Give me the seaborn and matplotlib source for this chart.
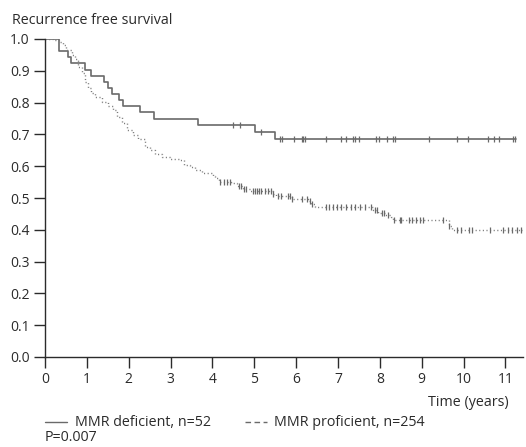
import numpy as np
import pandas as pd
import matplotlib
matplotlib.use("Agg")
import matplotlib.pyplot as plt
from matplotlib.lines import Line2D
import seaborn as sns

# Kaplan-Meier step levels (time in years, survival probability)
deficient_time = [0.0, 0.34, 0.56, 0.62, 0.95, 1.11, 1.41, 1.51, 1.59, 1.77,
                  1.87, 2.28, 2.60, 3.66, 5.01, 5.49, 11.26]
deficient_surv = [1.000, 0.962, 0.942, 0.923, 0.904, 0.885, 0.865, 0.846, 0.827, 0.808,
                  0.788, 0.769, 0.750, 0.731, 0.708, 0.684, 0.684]
deficient_censored = [4.49, 4.65, 5.17, 5.61, 5.67, 5.95, 6.13, 6.16, 6.21, 6.72,
                      7.06, 7.18, 7.36, 7.40, 7.50, 7.90, 7.98, 8.18, 8.31, 8.35,
                      9.17, 9.85, 10.11, 10.58, 10.72, 10.84, 11.18, 11.24]

proficient_time = [0.0, 0.20, 0.36, 0.44, 0.50, 0.64, 0.72, 0.80, 0.88, 0.95,
                   1.03, 1.10, 1.19, 1.35, 1.51, 1.63, 1.71, 1.83, 1.96, 2.11,
                   2.23, 2.39, 2.51, 2.63, 2.80, 2.98, 3.20, 3.32, 3.46, 3.58,
                   3.75, 4.02, 4.06, 4.16, 4.45, 4.58, 4.72, 4.90, 5.45, 5.53,
                   5.90, 6.28, 6.36, 6.44, 7.84, 7.95, 8.12, 8.27, 8.31, 9.65,
                   9.73, 11.42]
proficient_surv = [1.000, 0.997, 0.992, 0.981, 0.965, 0.950, 0.938, 0.913, 0.892, 0.866,
                   0.845, 0.830, 0.819, 0.803, 0.789, 0.777, 0.755, 0.735, 0.714, 0.698,
                   0.685, 0.660, 0.650, 0.637, 0.628, 0.623, 0.618, 0.605, 0.597, 0.588,
                   0.580, 0.570, 0.562, 0.551, 0.546, 0.538, 0.528, 0.522, 0.514, 0.505,
                   0.498, 0.492, 0.482, 0.471, 0.461, 0.453, 0.447, 0.441, 0.430, 0.412,
                   0.400, 0.400]
proficient_censored = [4.18, 4.27, 4.34, 4.42, 4.64, 4.69, 4.75, 4.81, 4.96, 5.01,
                       5.07, 5.11, 5.17, 5.25, 5.33, 5.41, 5.45, 5.57, 5.65, 5.81,
                       5.85, 5.91, 6.15, 6.25, 6.32, 6.39, 6.72, 6.79, 6.88, 6.98,
                       7.08, 7.18, 7.30, 7.40, 7.52, 7.64, 7.80, 7.88, 7.92, 8.04,
                       8.09, 8.19, 8.33, 8.47, 8.51, 8.69, 8.78, 8.87, 8.95, 9.03,
                       9.51, 9.65, 9.84, 9.94, 10.14, 10.21, 10.62, 10.94, 11.05, 11.16,
                       11.28, 11.38]

x_ticks = list(range(0, 12))
y_ticks = [0.0, 0.1, 0.2, 0.3, 0.4, 0.5, 0.6, 0.7, 0.8, 0.9, 1.0]

y_title = "Recurrence free survival"
x_title = "Time (years)"
label_def = "MMR deficient, n=52"
label_prof = "MMR proficient, n=254"
p_text = "P=0.007"

sns.set_theme(style="ticks")
plt.rcParams["font.family"] = ["Open Sans", "DejaVu Sans"]

INK = "#2b2b2b"
CURVE = "#6a6a6a"
W, H = 526, 447
FS = 10.3

fig = plt.figure(figsize=(W / 100, H / 100), dpi=100)
ax = fig.add_axes([45 / W, 90 / H, 478 / W, 318 / H])


def step_level(times, surv, query):
    idx = np.searchsorted(np.asarray(times), np.asarray(query), side="right") - 1
    return np.asarray(surv)[idx]


curves = [
    (deficient_time, deficient_surv, deficient_censored, "-", 1.2, CURVE),
    (proficient_time, proficient_surv, proficient_censored, (0, (0.8, 1.8)), 1.0, "#7a7a7a"),
]
for t, s, cens, ls, lw, col in curves:
    df = pd.DataFrame({"t": t, "s": s})
    sns.lineplot(data=df, x="t", y="s", ax=ax, estimator=None, sort=False,
                 drawstyle="steps-post", color=col, linestyle=ls, linewidth=lw)
    cdf = pd.DataFrame({"t": cens, "s": step_level(t, s, cens)})
    sns.scatterplot(data=cdf, x="t", y="s", ax=ax, marker="|", s=18,
                    color=CURVE, linewidth=0.9, zorder=3)

ax.set_xlim(0, 11.42)
ax.set_ylim(0, 1.0)
ax.set_xticks(x_ticks)
ax.set_yticks(y_ticks)
ax.set_yticklabels([f"{v:.1f}" for v in y_ticks])
ax.set_xlabel("")
ax.set_ylabel("")
for side in ("top", "right"):
    ax.spines[side].set_visible(False)
for side in ("left", "bottom"):
    ax.spines[side].set_color(INK)
    ax.spines[side].set_linewidth(1.0)
ax.tick_params(axis="both", direction="out", length=8, width=1.0, color=INK,
               labelcolor=INK, labelsize=10, pad=3)

fig.text(12 / W, 1 - 20 / H, y_title, ha="left", va="center", fontsize=FS, color=INK)
fig.text(509 / W, 1 - 402 / H, x_title, ha="right", va="center", fontsize=FS, color=INK)

# legend row below the axis
ly = 1 - 422 / H
fig.add_artist(Line2D([45 / W, 67 / W], [ly, ly], color=CURVE, linewidth=1.0))
fig.text(75 / W, ly, label_def, ha="left", va="center", fontsize=FS, color=INK)
fig.add_artist(Line2D([245 / W, 267 / W], [ly, ly], color=CURVE, linewidth=1.0,
                      linestyle=(0, (4, 2.5))))
fig.text(274 / W, ly, label_prof, ha="left", va="center", fontsize=FS, color=INK)
fig.text(45 / W, 2 / H, p_text, ha="left", va="bottom", fontsize=FS, color=INK)

fig.savefig("out.png", dpi=100, facecolor="white")
